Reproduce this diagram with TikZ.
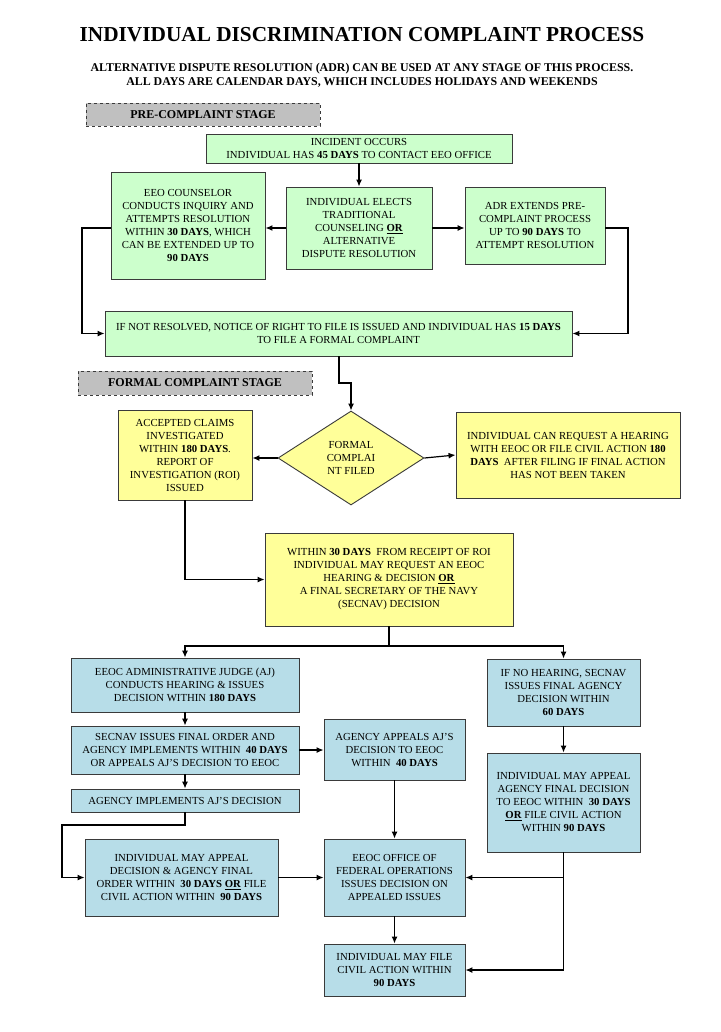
\documentclass[tikz,border=0pt]{standalone}
\usepackage{fontspec}
\usepackage{graphicx}
\setmainfont{Liberation Serif}
\usetikzlibrary{arrows.meta,shapes.geometric,calc}
\definecolor{gfill}{HTML}{CCFFCC}
\definecolor{yfill}{HTML}{FFFF99}
\definecolor{bfill}{HTML}{B7DDE8}
\definecolor{sfill}{HTML}{C0C0C0}
\definecolor{edgec}{HTML}{3A3A3A}
\tikzset{
  box/.style={draw=edgec, line width=0.9pt, align=center, inner sep=1pt,
    font=\fontsize{10.75}{13}\selectfont},
  gbox/.style={box, fill=gfill},
  ybox/.style={box, fill=yfill},
  bbox/.style={box, fill=bfill},
  stagebox/.style={draw=edgec, dashed, line width=0.9pt, fill=sfill, inner sep=0pt,
    font=\fontsize{12}{13}\selectfont\bfseries},
  arr/.style={draw=black, line width=1.2pt, -{Latex[length=7pt,width=6pt]}},
  ln/.style={draw=black, line width=1.2pt},
}
\begin{document}
\begin{tikzpicture}[x=1pt,y=-1pt]
\useasboundingbox (0,0) rectangle (720,1032);
\fill[white] (0,0) rectangle (720,1032);
% Titles
\node[font=\fontsize{21.3}{24}\selectfont\bfseries] (title) at (362,35) {INDIVIDUAL DISCRIMINATION COMPLAINT PROCESS};
\node[font=\fontsize{11.9}{14}\selectfont\bfseries, align=center] (sub) at (362,75.5)
  {ALTERNATIVE DISPUTE RESOLUTION (ADR) CAN BE USED AT ANY STAGE OF THIS PROCESS.\\
   ALL DAYS ARE CALENDAR DAYS, WHICH INCLUDES HOLIDAYS AND WEEKENDS};
% Stage labels
\node[stagebox, minimum width=234, minimum height=23] (pre) at (203,114.5) {PRE-COMPLAINT STAGE};
\node[stagebox, minimum width=234, minimum height=24] (formal) at (195,383) {FORMAL COMPLAINT STAGE};
% Pre-complaint boxes
\node[gbox, minimum width=306, minimum height=29] (inc) at (359,148.5)
  {INCIDENT OCCURS\\INDIVIDUAL HAS \textbf{45 DAYS} TO CONTACT EEO OFFICE};
\node[gbox, minimum width=154, minimum height=107] (eeo) at (188,225.5)
  {EEO COUNSELOR\\CONDUCTS INQUIRY AND\\ATTEMPTS RESOLUTION\\WITHIN \textbf{30 DAYS}, WHICH\\CAN BE EXTENDED UP TO\\\textbf{90 DAYS}};
\node[gbox, minimum width=146, minimum height=82] (elect) at (359,228)
  {INDIVIDUAL ELECTS\\TRADITIONAL\\COUNSELING \underline{\textbf{OR}}\\ALTERNATIVE\\DISPUTE RESOLUTION};
\node[gbox, minimum width=140, minimum height=77] (adr) at (535,225.5)
  {ADR EXTENDS PRE-\\COMPLAINT PROCESS\\UP TO \textbf{90 DAYS} TO\\ATTEMPT RESOLUTION};
\node[gbox, minimum width=467, minimum height=45] (notres) at (338.5,333.5)
  {IF NOT RESOLVED, NOTICE OF RIGHT TO FILE IS ISSUED AND INDIVIDUAL HAS \textbf{15 DAYS}\\TO FILE A FORMAL COMPLAINT};
% Formal stage
\node[ybox, diamond, minimum width=146, minimum height=94, inner sep=0pt] (dia) at (351,458)
  {FORMAL\\COMPLAI\\NT FILED};
\node[ybox, minimum width=134, minimum height=90] (acc) at (185,455)
  {ACCEPTED CLAIMS\\INVESTIGATED\\WITHIN \textbf{180 DAYS}.\\REPORT OF\\INVESTIGATION (ROI)\\ISSUED};
\node[ybox, minimum width=224, minimum height=86] (canreq) at (568,455)
  {INDIVIDUAL CAN REQUEST A HEARING\\WITH EEOC OR FILE CIVIL ACTION \textbf{180}\\\textbf{DAYS}\ \ AFTER FILING IF FINAL ACTION\\HAS NOT BEEN TAKEN};
\node[ybox, minimum width=248, minimum height=93] (w30) at (389,579.5)
  {WITHIN \textbf{30 DAYS}\ \ FROM RECEIPT OF ROI\\INDIVIDUAL MAY REQUEST AN EEOC\\HEARING \& DECISION \underline{\textbf{OR}}\\A FINAL SECRETARY OF THE NAVY\\(SECNAV) DECISION};
% Bottom section
\node[bbox, minimum width=228, minimum height=54] (aj) at (185,685)
  {EEOC ADMINISTRATIVE JUDGE (AJ)\\CONDUCTS HEARING \& ISSUES\\DECISION WITHIN \textbf{180 DAYS}};
\node[bbox, minimum width=153, minimum height=67] (nohear) at (563.5,692.5)
  {IF NO HEARING, SECNAV\\ISSUES FINAL AGENCY\\DECISION WITHIN\\\textbf{60 DAYS}};
\node[bbox, minimum width=228, minimum height=48] (secnav) at (185,750)
  {SECNAV ISSUES FINAL ORDER AND\\AGENCY IMPLEMENTS WITHIN\ \ \textbf{40 DAYS}\\OR APPEALS AJ'S DECISION TO EEOC};
\node[bbox, minimum width=141, minimum height=61] (agapp) at (394.5,749.5)
  {AGENCY APPEALS AJ'S\\DECISION TO EEOC\\WITHIN\ \ \textbf{40 DAYS}};
\node[bbox, minimum width=228, minimum height=23] (agimpl) at (185,800.5)
  {AGENCY IMPLEMENTS AJ'S DECISION};
\node[bbox, minimum width=153, minimum height=99] (indfinal) at (563.5,802.5)
  {INDIVIDUAL MAY APPEAL\\AGENCY FINAL DECISION\\TO EEOC WITHIN\ \ \textbf{30 DAYS}\\\underline{\textbf{OR}} FILE CIVIL ACTION\\WITHIN \textbf{90 DAYS}};
\node[bbox, minimum width=193, minimum height=77] (indapp) at (181.5,877.5)
  {INDIVIDUAL MAY APPEAL\\DECISION \& AGENCY FINAL\\ORDER WITHIN\ \ \textbf{30 DAYS} \underline{\textbf{OR}} FILE\\CIVIL ACTION WITHIN\ \ \textbf{90 DAYS}};
\node[bbox, minimum width=141, minimum height=77] (ofo) at (394.5,877.5)
  {EEOC OFFICE OF\\FEDERAL OPERATIONS\\ISSUES DECISION ON\\APPEALED ISSUES};
\node[bbox, minimum width=141, minimum height=52] (civil) at (394.5,970)
  {INDIVIDUAL MAY FILE\\CIVIL ACTION WITHIN\\\textbf{90 DAYS}};
% Connectors
\draw[arr] (inc.south) -- (elect.north);
\draw[arr] (elect.west) -- (elect.west -| eeo.east);
\draw[arr] (elect.east) -- (elect.east -| adr.west);
\coordinate (lA) at (82,228);
\coordinate (rA) at (628,228);
\draw[arr] (eeo.west |- elect.west) -- (lA) |- (notres.west);
\draw[arr] (adr.east |- elect.west) -- (rA) |- (notres.east);
\coordinate (nb) at (339,383);
\draw[arr] (notres.south -| nb) -- (nb) -| (dia.north);
\draw[arr] (dia.west) -- (dia.west -| acc.east);
\draw[arr] (dia.east) -- (canreq.west);
\draw[arr] (acc.south) |- (w30.west);
\coordinate (split) at (389,646);
\draw[ln] (w30.south) -- (split);
\draw[arr] (split) -| (aj.north);
\draw[arr] (split) -| (nohear.north);
\draw[arr] (aj.south) -- (secnav.north);
\draw[arr] (secnav.east) -- (secnav.east -| agapp.west);
\draw[arr] (secnav.south) -- (agimpl.north);
\coordinate (lk) at (62,825);
\draw[arr] (agimpl.south) |- (lk) |- (indapp.west);
\draw[arr] (indapp.east) -- (indapp.east -| ofo.west);
\draw[arr] (agapp.south) -- (ofo.north);
\draw[arr] (nohear.south) -- (indfinal.north);
\draw[arr] (ofo.south) -- (civil.north);
\draw[ln] (indfinal.south) -- (indfinal.south |- civil.east);
\draw[arr] (indfinal.south |- ofo.east) -- (ofo.east);
\draw[arr] (indfinal.south |- civil.east) -- (civil.east);
\end{tikzpicture}
\end{document}
